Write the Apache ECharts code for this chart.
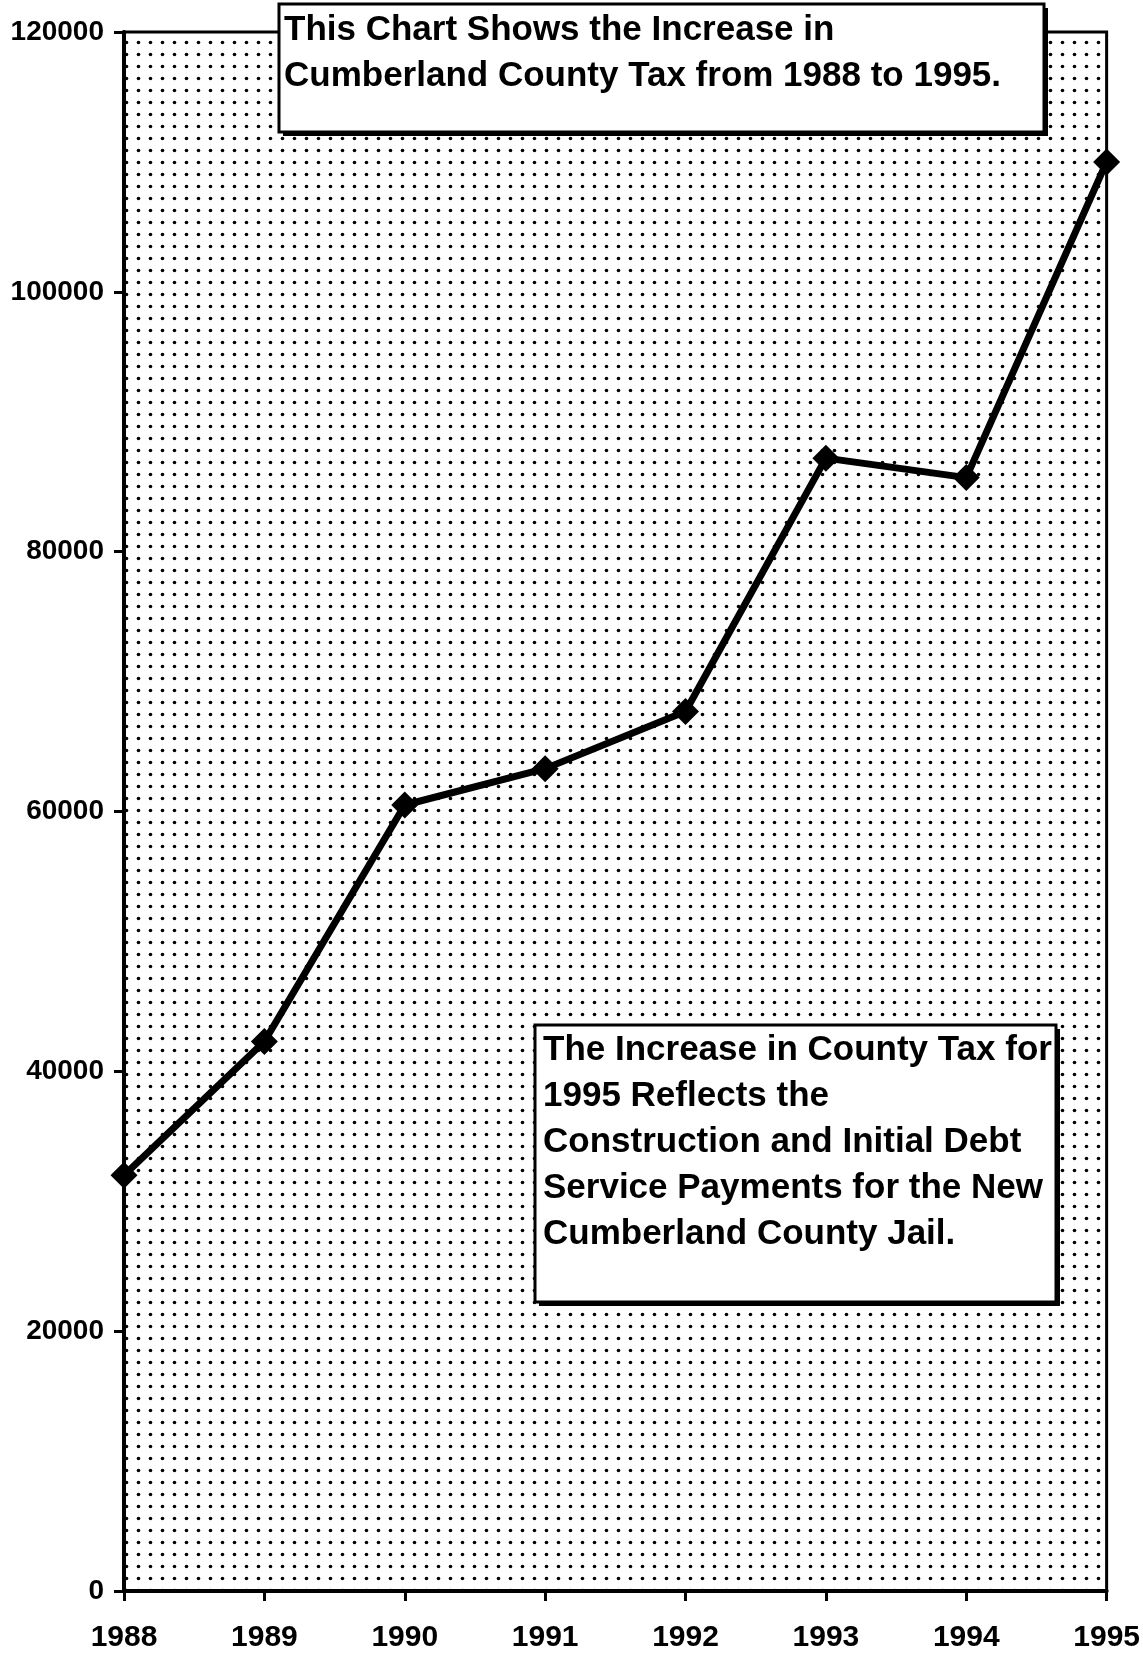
<!DOCTYPE html>
<html>
<head>
<meta charset="utf-8">
<script src="https://cdn.jsdelivr.net/npm/echarts@6/dist/echarts.min.js"></script>
<style>
    html, body { margin: 0; padding: 0; background: #ffffff; }
    #taxChart { width: 1143px; height: 1663px; }
</style>
</head>
<body>
<div id="taxChart"></div>
<script>
    // data
    var years = ['1988', '1989', '1990', '1991', '1992', '1993', '1994', '1995'];
    var countyTax = [32000, 42300, 60500, 63300, 67700, 87200, 85700, 110000];
    var yMin = 0;
    var yMax = 120000;
    var yStep = 20000;

    var titleNote = 'This Chart Shows the Increase in\nCumberland County Tax from 1988 to 1995.';
    var jailNote = 'The Increase in County Tax for\n1995 Reflects the\nConstruction and Initial Debt\nService Payments for the New\nCumberland County Jail.';

    var fontName = '"Liberation Sans", Arial, sans-serif';

    // dotted background like the old print
    function dotPattern() {
        var c = document.createElement('canvas');
        c.width = 12;
        c.height = 12;
        var ctx = c.getContext('2d');
        ctx.fillStyle = '#000';
        ctx.beginPath();
        ctx.arc(6.5, 6.5, 1.8, 0, Math.PI * 2);
        ctx.fill();
        return c;
    }

    var myChart = echarts.init(document.getElementById('taxChart'));
    myChart.setOption({
        backgroundColor: '#ffffff',
        animation: false,
        grid: {
            left: 124,
            right: 35,
            top: 32,
            bottom: 72,
            show: true,
            borderColor: '#000',
            borderWidth: 3,
            backgroundColor: { image: dotPattern(), repeat: 'repeat' }
        },
        xAxis: {
            type: 'category',
            boundaryGap: false,
            data: years,
            axisLine: { lineStyle: { color: '#000', width: 4 } },
            axisTick: { show: true, length: 10, lineStyle: { color: '#000', width: 3 } },
            axisLabel: {
                color: '#000',
                fontSize: 30,
                fontWeight: 'bold',
                fontFamily: fontName,
                margin: 32
            },
            splitLine: { show: false }
        },
        yAxis: {
            type: 'value',
            min: yMin,
            max: yMax,
            interval: yStep,
            axisLine: { show: true, lineStyle: { color: '#000', width: 4 } },
            axisTick: { show: true, length: 10, lineStyle: { color: '#000', width: 3 } },
            axisLabel: {
                color: '#000',
                fontSize: 28,
                fontWeight: 'bold',
                fontFamily: fontName,
                margin: 20,
                formatter: function (v) { return String(v); }
            },
            splitLine: { show: false }
        },
        series: [{
            type: 'line',
            data: countyTax,
            symbol: 'diamond',
            symbolSize: 27,
            clip: false,
            lineStyle: { color: '#000', width: 7 },
            itemStyle: { color: '#000' }
        }],
        graphic: [
            // top note box
            { type: 'rect', shape: { x: 283, y: 8, width: 765, height: 128 }, style: { fill: '#000' }, z: 100 },
            { type: 'rect', shape: { x: 279, y: 4, width: 765, height: 128 }, style: { fill: '#fff', stroke: '#000', lineWidth: 3 }, z: 101 },
            { type: 'text', x: 284, y: 7, z: 102,
                style: { text: titleNote, font: 'bold 35px ' + fontName, lineHeight: 46, fill: '#000' } },
            // jail note box
            { type: 'rect', shape: { x: 539, y: 1029, width: 521, height: 277 }, style: { fill: '#000' }, z: 100 },
            { type: 'rect', shape: { x: 535, y: 1025, width: 521, height: 277 }, style: { fill: '#fff', stroke: '#000', lineWidth: 3 }, z: 101 },
            { type: 'text', x: 543, y: 1027, z: 102,
                style: { text: jailNote, font: 'bold 35px ' + fontName, lineHeight: 46, fill: '#000' } }
        ]
    });
</script>
</body>
</html>
